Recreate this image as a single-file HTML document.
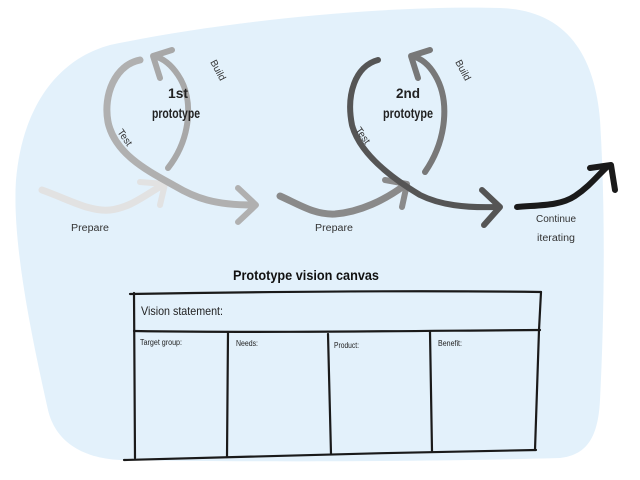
<!DOCTYPE html>
<html><head><meta charset="utf-8"><style>
html,body{margin:0;padding:0;background:#fff;}
svg{display:block}
text{font-family:"Liberation Sans",sans-serif;}
</style></head><body>
<svg width="640" height="480" viewBox="0 0 640 480" xmlns="http://www.w3.org/2000/svg">
<path d="M110,45 C220,22 380,5 500,8 C570,10 595,60 600,120 C605,200 605,300 600,400 C598,440 585,455 560,458 C420,462 250,462 120,460 C80,458 55,440 48,410 C30,330 12,240 16,180 C22,110 55,60 110,45 Z" fill="#e3f1fb"/>
<g fill="none" stroke-linecap="round" stroke-linejoin="round">
<path d="M42,190 C70,200 90,212 110,210 C130,208 145,195 163,185" stroke="#e2e2e2" stroke-width="7"/>
<path d="M140,182 L165,184 L160,205" stroke="#e2e2e2" stroke-width="6"/>
<path d="M140,60 C115,65 103,95 108,122 C115,155 150,172 175,186 C195,198 215,205 252,205" stroke="#b0b0b0" stroke-width="7"/>
<path d="M238,188 L256,205 L238,222" stroke="#b0b0b0" stroke-width="6"/>
<path d="M168,168 C190,140 195,100 178,75 C170,63 162,58 154,56" stroke="#a8a8a8" stroke-width="6"/>
<path d="M172,50 L153,56 L160,78" stroke="#a8a8a8" stroke-width="6"/>
<path d="M280,196 C300,205 315,215 335,214 C360,212 385,200 405,185" stroke="#8a8a8a" stroke-width="7"/>
<path d="M385,180 L407,184 L402,207" stroke="#8a8a8a" stroke-width="6"/>
<path d="M378,60 C355,66 346,95 352,125 C360,155 395,180 420,195 C440,205 465,208 497,207" stroke="#555" stroke-width="6"/>
<path d="M482,190 L500,207 L484,225" stroke="#555" stroke-width="6"/>
<path d="M425,172 C447,140 450,100 435,75 C428,63 420,58 412,56" stroke="#787878" stroke-width="6"/>
<path d="M430,50 L411,56 L418,78" stroke="#787878" stroke-width="6"/>
<path d="M517,207 C540,205 560,206 575,196 C590,186 598,175 608,166" stroke="#1a1a1a" stroke-width="6"/>
<path d="M590,168 L611,165 L615,190" stroke="#1a1a1a" stroke-width="6"/>
</g>
<g font-weight="bold" font-size="14" fill="#222">
<text x="168" y="98" textLength="20" lengthAdjust="spacingAndGlyphs">1st</text>
<text x="152" y="118" textLength="48" lengthAdjust="spacingAndGlyphs">prototype</text>
<text x="396" y="98" textLength="24" lengthAdjust="spacingAndGlyphs">2nd</text>
<text x="383" y="118" textLength="50" lengthAdjust="spacingAndGlyphs">prototype</text>
</g>
<g font-size="10" fill="#333">
<text transform="translate(210,62) rotate(62)" textLength="22" lengthAdjust="spacingAndGlyphs">Build</text>
<text transform="translate(455,62) rotate(62)" textLength="22" lengthAdjust="spacingAndGlyphs">Build</text>
<text transform="translate(117,132) rotate(55)" textLength="18" lengthAdjust="spacingAndGlyphs">Test</text>
<text transform="translate(355,130) rotate(55)" textLength="18" lengthAdjust="spacingAndGlyphs">Test</text>
<text x="71" y="231" textLength="38" lengthAdjust="spacingAndGlyphs">Prepare</text>
<text x="315" y="231" textLength="38" lengthAdjust="spacingAndGlyphs">Prepare</text>
<text x="536" y="222" textLength="40" lengthAdjust="spacingAndGlyphs">Continue</text>
<text x="537" y="241" textLength="38" lengthAdjust="spacingAndGlyphs">iterating</text>
</g>
<text x="233" y="280" font-weight="bold" font-size="14" fill="#111" textLength="146" lengthAdjust="spacingAndGlyphs">Prototype vision canvas</text>
<g fill="none" stroke="#1a1a1a" stroke-width="2.2" stroke-linecap="round">
<path d="M130,294 C250,292 400,290 541,292"/>
<path d="M134,293 L135,458"/>
<path d="M541,292 L539,330 L535,450"/>
<path d="M134,331 C260,333 400,331 540,330"/>
<path d="M124,460 C250,457 400,452 536,450"/>
<path d="M228,332 L227,457"/>
<path d="M328,334 L331,454"/>
<path d="M430,332 L432,451"/>
</g>
<g fill="#222">
<text x="141" y="315" font-size="12" textLength="82" lengthAdjust="spacingAndGlyphs">Vision statement:</text>
<text x="140" y="345" font-size="8" textLength="42" lengthAdjust="spacingAndGlyphs">Target group:</text>
<text x="236" y="346" font-size="8" textLength="22" lengthAdjust="spacingAndGlyphs">Needs:</text>
<text x="334" y="348" font-size="8" textLength="25" lengthAdjust="spacingAndGlyphs">Product:</text>
<text x="438" y="346" font-size="8" textLength="24" lengthAdjust="spacingAndGlyphs">Benefit:</text>
</g>
</svg>
</body></html>
